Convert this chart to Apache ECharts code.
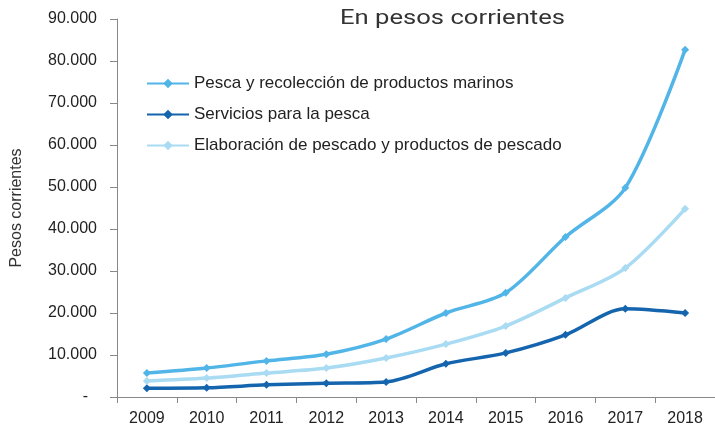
<!DOCTYPE html>
<html>
<head>
<meta charset="utf-8">
<script src="https://cdn.jsdelivr.net/npm/echarts@6/dist/echarts.min.js"></script>
<style>
  html, body { margin: 0; padding: 0; background: #fff; }
  #chart { width: 715px; height: 428px; }
</style>
</head>
<body>
<div id="chart"></div>
<script>
// años
var years = ['2009','2010','2011','2012','2013','2014','2015','2016','2017','2018'];
// series (pesos corrientes)
var pescaRecoleccion = [5700, 6900, 8600, 10200, 13800, 20000, 24800, 38100, 49800, 82700];
var serviciosPesca   = [2100, 2200, 2900, 3300, 3600, 7900, 10500, 14800, 21000, 20000];
var elaboracion      = [3800, 4500, 5700, 6900, 9300, 12600, 16900, 23600, 30700, 44800];
var seriesNames = [
  'Pesca y recolección de productos marinos',
  'Servicios para la pesca',
  'Elaboración de pescado y productos de pescado'
];
var colors = ['#52b5e8', '#1565ae', '#a9dbf3'];

function fmtMiles(v){
  if (v === 0) return '-  ';
  return String(v).replace(/\B(?=(\d{3})+(?!\d))/g, '.');
}

function lineSerie(name, data, color){
  return {
    name: name,
    type: 'line',
    data: data,
    smooth: 0.3,
    symbol: 'diamond',
    symbolSize: 8,
    lineStyle: { width: 3.5, color: color },
    itemStyle: { color: color }
  };
}

var myChart = echarts.init(document.getElementById('chart'));
var option = {
  animation: false,
  color: colors,
  // subtítulo (texto real, algo ensanchado como en la imagen)
  graphic: [{
    type: 'text',
    left: 340,
    top: 8,
    scaleX: 1.22,
    style: {
      text: 'En pesos corrientes',
      font: 'normal 21px Roboto',
      fill: '#333'
    }
  }],
  legend: {
    orient: 'vertical',
    left: 141,
    top: 70,
    itemWidth: 42,
    itemHeight: 12,
    itemGap: 14,
    textStyle: { fontFamily: 'Liberation Sans, Arial', fontSize: 17, color: '#222' },
    data: seriesNames
  },
  grid: { left: 117, right: 0, top: 19, bottom: 31, outerBoundsMode: 'none' },
  xAxis: {
    type: 'category',
    data: years,
    boundaryGap: true,
    axisLine: { lineStyle: { color: '#888', width: 1 } },
    axisTick: { show: true, length: 6, lineStyle: { color: '#888' } },
    axisLabel: { margin: 14, fontFamily: 'Liberation Sans, Arial', fontSize: 16, color: '#222' }
  },
  yAxis: {
    type: 'value',
    min: 0,
    max: 90000,
    interval: 10000,
    name: 'Pesos corrientes',
    nameLocation: 'middle',
    nameGap: 92,
    nameTextStyle: { fontFamily: 'Liberation Sans, Arial', fontSize: 16, color: '#333' },
    axisLine: { show: true, lineStyle: { color: '#888' } },
    axisTick: { show: true, length: 7, lineStyle: { color: '#888' } },
    splitLine: { show: false },
    axisLabel: {
      margin: 20,
      fontFamily: 'Liberation Sans, Arial',
      fontSize: 16,
      color: '#222',
      formatter: fmtMiles
    }
  },
  series: [
    lineSerie(seriesNames[0], pescaRecoleccion, colors[0]),
    lineSerie(seriesNames[1], serviciosPesca, colors[1]),
    lineSerie(seriesNames[2], elaboracion, colors[2])
  ]
};
myChart.setOption(option);
</script>
</body>
</html>
